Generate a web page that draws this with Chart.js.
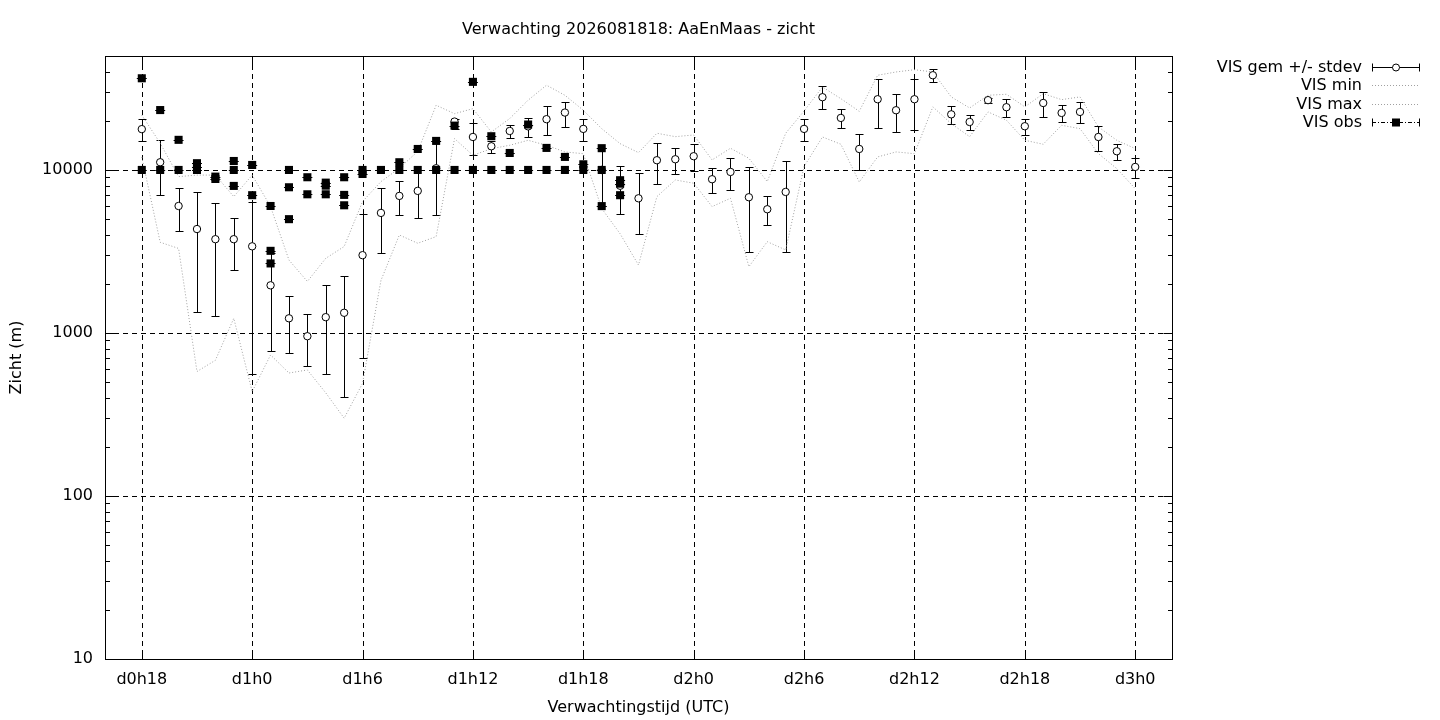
<!DOCTYPE html>
<html><head><meta charset="utf-8">
<script src="https://cdn.jsdelivr.net/npm/chart.js@4/dist/chart.umd.min.js"></script>
<style>html,body{margin:0;padding:0;background:#fff}</style>
</head><body>
<canvas id="c" width="1440" height="720" style="display:block;width:1440px;height:720px"></canvas>
<script>
const chartTitle = 'Verwachting 2026081818: AaEnMaas - zicht';
const xTitle = 'Verwachtingstijd (UTC)';
const yTitle = 'Zicht (m)';
const seriesLabels = ['VIS gem +/- stdev', 'VIS min', 'VIS max', 'VIS obs'];

const hours = [18,19,20,21,22,23,24,25,26,27,28,29,30,31,32,33,34,35,36,37,38,39,40,41,42,43,44,45,46,47,48,49,50,51,52,53,54,55,56,57,58,59,60,61,62,63,64,65,66,67,68,69,70,71,72];
const visMean = [17800,11150,6010,4340,3760,3760,3400,1960,1230,955,1250,1330,3000,5450,6930,7440,10240,19800,15930,13970,17340,18500,20480,22490,17860,10000,8000,6700,11470,11630,12140,8770,9720,6800,5740,7330,17860,27940,20850,13450,27150,23240,27150,38100,21930,19690,26800,24260,18540,25750,22370,22700,15930,13020,10430];
const visLo = [15000,7030,4230,1340,1270,2440,558,777,752,624,560,403,700,3080,5270,5060,5270,17920,12300,12710,15720,15930,16330,18360,15070,6000,5350,4030,8170,9450,9860,7200,7500,3130,4580,3130,15070,23660,18120,9950,18120,17100,17660,34670,19060,17660,25750,21140,16330,21140,19690,19400,13080,11570,8970];
const visHi = [20500,15300,7720,7300,6250,5060,6400,3080,1690,1300,1960,2240,5350,7790,8600,10000,15070,20660,19500,14990,18800,20930,24600,26140,20480,13700,10500,9540,14590,13710,14380,10330,11900,10480,6950,11400,20480,32570,23550,16700,35960,29370,36270,41880,24600,21670,27770,27370,20480,30130,24940,26140,18540,14380,11850];
const visMin = [12000,3600,3300,580,680,1230,437,733,568,593,429,300,491,2100,3990,3550,3900,15560,12300,13500,14170,15200,14170,12900,12580,5800,4060,2610,6860,8680,8290,5960,6700,2550,3630,3230,10500,15930,14380,8440,12020,12900,12580,24370,19230,16000,22700,20180,15200,14380,18800,17920,12590,10190,7680];
const visMax = [21700,14600,9100,9300,9300,6860,9300,5960,2800,2070,2870,3390,6400,8480,10240,13000,24940,22140,23760,17100,20660,26800,33100,28710,23240,17920,14500,12770,16790,16000,16390,11520,13590,11790,8480,16790,23000,32260,27370,22900,38100,39900,41200,39900,28050,24000,28710,29130,24370,29370,27000,28050,18360,15200,13520];

const obsHours  = [18,18, 19,19, 20,20, 21,21,21, 22,22, 23,23,23, 24,24, 25,25,25, 26,26,26, 27,27, 28,28,28, 29,29,29, 30,30, 31, 32,32, 33,33, 34,34, 35,35, 36,36, 37,37, 38,38, 39,39, 40,40, 41,41, 42,42, 43,43,43, 44,44,44];
const obsValues = [36500,10000, 23300,10000, 15300,10000, 11000,10400,10000, 9100,8800, 11350,10000,7980, 10730,7000, 6010,3190,2670, 10000,7830,4990, 9020,7090, 8360,8010,7090, 9020,7030,6070, 10000,9450, 10000, 11150,10000, 13450,10000, 15070,10000, 18700,10000, 34700,10000, 16100,10000, 12710,10000, 19000,10000, 13650,10000, 12020,10000, 10830,10000, 13600,10000,6000, 8650,8240,7000];

const xRange = [16, 74];
const yRange = [10, 50000];
const xTickHours = [18,24,30,36,42,48,54,60,66,72];
const xTickLabels = ['d0h18','d1h0','d1h6','d1h12','d1h18','d2h0','d2h6','d2h12','d2h18','d3h0'];
const yTickValues = [10,100,1000,10000];
const yTickLabels = ['10','100','1000','10000'];

const FONT = {family: "'DejaVu Sans', sans-serif", size: 16};
const FONT_CSS = "16px 'DejaVu Sans', sans-serif";
const GRAY = '#a0a0a0';

function seg(ctx, x1, y1, x2, y2) { ctx.beginPath(); ctx.moveTo(x1, y1); ctx.lineTo(x2, y2); ctx.stroke(); }
const snap = v => Math.round(v) + 0.5;

const gnuPlugin = {
  id: 'gnu',
  beforeDatasetsDraw(chart) {
    const {ctx, chartArea: a, scales: {x, y}} = chart;
    ctx.save();
    ctx.strokeStyle = '#000'; ctx.lineWidth = 1;
    // dashed grid
    ctx.setLineDash([5, 4]);
    xTickHours.forEach(h => { const px = snap(x.getPixelForValue(h)); seg(ctx, px, a.top, px, a.bottom); });
    yTickValues.forEach(v => {
      if (v <= yRange[0]) return;
      const py = snap(y.getPixelForValue(v)); seg(ctx, a.left, py, a.right, py);
    });
    ctx.setLineDash([]);
    // error bars
    hours.forEach((h, i) => {
      const px = snap(x.getPixelForValue(h));
      const pl = snap(y.getPixelForValue(visLo[i]));
      const ph = snap(y.getPixelForValue(visHi[i]));
      seg(ctx, px, pl, px, ph);
      seg(ctx, px - 4, pl, px + 4, pl);
      seg(ctx, px - 4, ph, px + 4, ph);
    });
    // obs caps
    obsHours.forEach((h, i) => {
      const px = x.getPixelForValue(h);
      const py = snap(y.getPixelForValue(obsValues[i]));
      seg(ctx, px - 5, py, px + 5, py);
    });
    ctx.restore();
  },
  afterDatasetsDraw(chart) {
    const {ctx, chartArea: a, scales: {x, y}} = chart;
    ctx.save();
    ctx.strokeStyle = '#000'; ctx.lineWidth = 1;
    const L = snap(a.left), R = snap(a.right), T = snap(a.top), B = snap(a.bottom);
    yTickValues.forEach(d => {
      for (let m = 1; m <= 9; m++) {
        const v = d * m;
        if (v > yRange[1]) break;
        const py = snap(y.getPixelForValue(v));
        const len = m === 1 ? 9 : 4.5;
        seg(ctx, L, py, L + len, py);
        seg(ctx, R - len, py, R, py);
      }
    });
    xTickHours.forEach(h => {
      const px = snap(x.getPixelForValue(h));
      seg(ctx, px, B, px, B - 9);
      seg(ctx, px, T, px, T + 9);
    });
    ctx.strokeRect(L, T, R - L, B - T);
    ctx.restore();
  },
  afterDraw(chart) {
    const {ctx, chartArea: a} = chart;
    ctx.save();
    ctx.fillStyle = '#000'; ctx.strokeStyle = '#000'; ctx.lineWidth = 1;
    ctx.font = FONT_CSS;
    ctx.textBaseline = 'middle';
    ctx.textAlign = 'center';
    ctx.fillText(chartTitle, (a.left + a.right) / 2, 29.5);
    const rows = [66.5, 84.5, 103.5, 121.5];
    const tx = 1362, s0 = 1372, s1 = 1420, sc = 1396;
    ctx.textAlign = 'right';
    seriesLabels.forEach((lab, i) => {
      ctx.fillStyle = '#000';
      ctx.fillText(lab, tx, rows[i] + 1);
      const yy = Math.round(rows[i]) + 0.5;
      if (i === 0) {
        ctx.strokeStyle = '#000'; ctx.setLineDash([]);
        seg(ctx, s0, yy, s1, yy);
        seg(ctx, s0 + 0.5, yy - 4, s0 + 0.5, yy + 4);
        seg(ctx, s1 - 0.5, yy - 4, s1 - 0.5, yy + 4);
        ctx.beginPath(); ctx.arc(sc, yy, 3.5, 0, Math.PI * 2); ctx.fillStyle = '#fff'; ctx.fill(); ctx.stroke();
      } else if (i === 3) {
        ctx.strokeStyle = '#000';
        ctx.setLineDash([4, 2, 1, 2]);
        seg(ctx, s0, yy, s1, yy);
        ctx.setLineDash([]);
        seg(ctx, s0 + 0.5, yy - 4, s0 + 0.5, yy + 4);
        seg(ctx, s1 - 0.5, yy - 4, s1 - 0.5, yy + 4);
        ctx.fillStyle = '#000'; ctx.fillRect(sc - 4, yy - 4, 8, 8);
      } else {
        ctx.strokeStyle = GRAY; ctx.setLineDash([1, 2]);
        seg(ctx, s0, yy, s1, yy);
        ctx.setLineDash([]);
      }
    });
    ctx.restore();
  }
};

const toPts = (xs, ys) => xs.map((h, i) => ({x: h, y: ys[i]}));

new Chart(document.getElementById('c').getContext('2d'), {
  type: 'scatter',
  data: {
    datasets: [
      {label: seriesLabels[0], data: toPts(hours, visMean), showLine: false, pointStyle: 'circle', pointRadius: 3.7,
       pointBackgroundColor: '#fff', pointBorderColor: '#000', pointBorderWidth: 1, order: 1},
      {label: seriesLabels[1], data: toPts(hours, visMin), showLine: true, borderColor: GRAY, borderWidth: 1,
       borderDash: [1, 2], pointRadius: 0, tension: 0, order: 2},
      {label: seriesLabels[2], data: toPts(hours, visMax), showLine: true, borderColor: GRAY, borderWidth: 1,
       borderDash: [1, 2], pointRadius: 0, tension: 0, order: 2},
      {label: seriesLabels[3], data: toPts(obsHours, obsValues), showLine: false, pointStyle: 'rect', pointRadius: 5.7,
       pointBackgroundColor: '#000', pointBorderColor: '#000', pointBorderWidth: 0, order: 0}
    ]
  },
  options: {
    responsive: false, animation: false, devicePixelRatio: 1,
    layout: {padding: {left: 0, right: 268, top: 56, bottom: 0}},
    plugins: {legend: {display: false}, tooltip: {enabled: false}, title: {display: false}},
    scales: {
      x: {
        type: 'linear', min: xRange[0], max: xRange[1],
        grid: {display: false}, border: {display: false},
        afterBuildTicks: s => { s.ticks = xTickHours.map(v => ({value: v})); },
        ticks: {callback: v => xTickLabels[xTickHours.indexOf(v)], font: FONT, color: '#000', padding: 3, maxRotation: 0, autoSkip: false},
        title: {display: true, text: xTitle, font: FONT, color: '#000', padding: {top: 0, bottom: 3}},
        afterFit: s => { s.height = 61; }
      },
      y: {
        type: 'logarithmic', min: yRange[0], max: yRange[1],
        grid: {display: false}, border: {display: false},
        afterBuildTicks: s => { s.ticks = yTickValues.map(v => ({value: v})); },
        ticks: {callback: v => { const k = yTickValues.indexOf(v); return k >= 0 ? yTickLabels[k] : ''; }, font: FONT, color: '#000', padding: 4, autoSkip: false},
        title: {display: true, text: yTitle, font: FONT, color: '#000', padding: {top: 7, bottom: 0}},
        afterFit: s => { s.width = 105; }
      }
    }
  },
  plugins: [gnuPlugin]
});
</script>
</body></html>
